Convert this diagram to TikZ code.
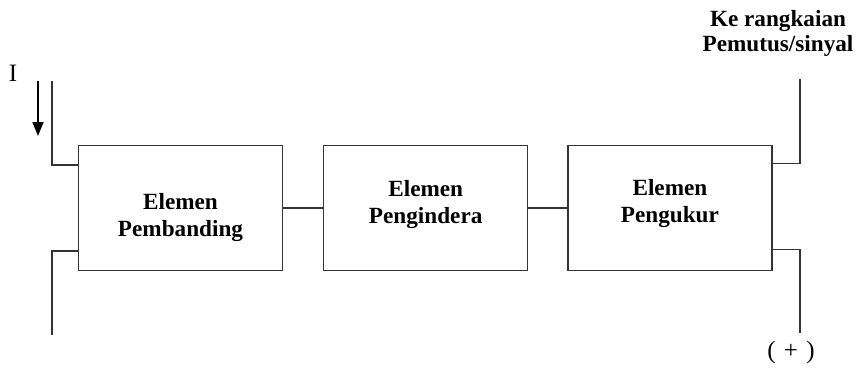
\documentclass[tikz,border=0pt]{standalone}
\usepackage{fontspec}
\setmainfont{Liberation Serif}
\usetikzlibrary{positioning,calc,arrows.meta}

\tikzset{
  elemen/.style={draw=black!80, line width=0.6pt, minimum width=102pt,
    minimum height=62.5pt},
  isi/.style={align=center, font=\bfseries\fontsize{11.6}{13.5}\selectfont},
  wire/.style={draw=black!80, line width=0.6pt},
  lbl/.style={align=center, inner sep=0pt, font=\fontsize{11.5}{13.5}\selectfont}
}

\begin{document}
\begin{tikzpicture}[x=0.5pt, y=-0.5pt]
\useasboundingbox (0,0) rectangle (858,370);

% the three blocks
\node[elemen] (banding) at (180.5,208) {};
\node[elemen, right=20pt of banding] (indera) {};
\node[elemen, right=19.5pt of indera] (ukur) {};
\node[isi] (tBanding) at ([yshift=-5pt]banding.center) {Elemen\\Pembanding};
\node[isi] (tIndera) at ([yshift=1.75pt]indera.center) {Elemen\\Pengindera};
\node[isi] (tUkur) at ([yshift=2pt]ukur.center) {Elemen\\Pengukur};

% free ends of the leads
\coordinate (inTop) at (52,81);
\coordinate (inBot) at (52,335);
\coordinate (outTop) at (800,79);
\coordinate (outBot) at (800,333);
\coordinate (arrTop) at (38,81);
\coordinate (arrTip) at (38,136);

% labels
\node[lbl, font=\fontsize{12.5}{13.5}\selectfont] (arus) at (13,73) {I};
\node[lbl, font=\bfseries\fontsize{11.6}{12.5}\selectfont] (keluar) at (778,33) {Ke rangkaian\\Pemutus/sinyal};
\node[lbl, font=\fontsize{12.5}{13.5}\selectfont] (plus) at (791,352) {(\,\,+\,\,)};

% connections
\draw[wire] (banding) -- (indera);
\draw[wire] (indera) -- (ukur);
\draw[wire] ($(banding.north west)!0.16!(banding.south west)$) -| (inTop);
\draw[wire] ($(banding.north west)!0.84!(banding.south west)$) -| (inBot);
\draw[wire] ($(ukur.north east)!0.15!(ukur.south east)$) -| (outTop);
\draw[wire] ($(ukur.north east)!0.83!(ukur.south east)$) -| (outBot);
\draw[line width=0.8pt, -{Triangle[length=7pt, width=5.5pt]}] (arrTop) -- (arrTip);
\end{tikzpicture}
\end{document}
